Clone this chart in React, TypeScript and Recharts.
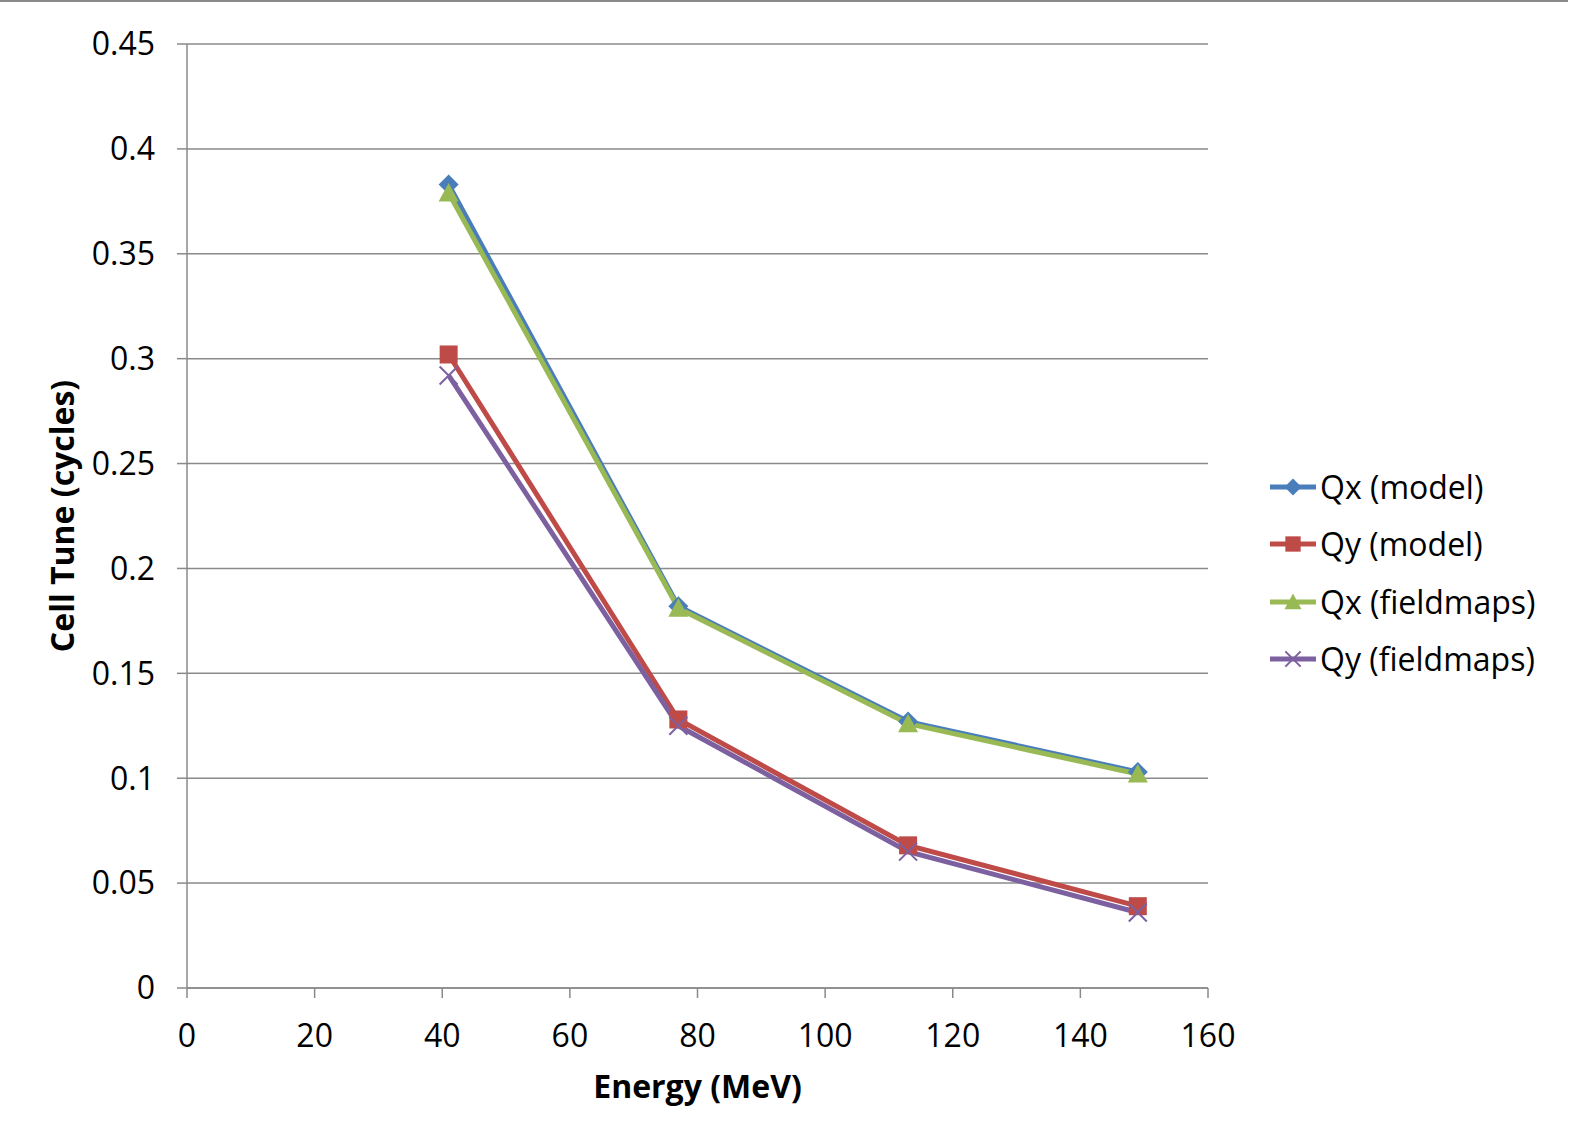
import React from "react";
import { LineChart, Line, XAxis, YAxis, CartesianGrid } from "recharts";

const energy = [41, 77, 113, 149];
const qxModel = [0.383, 0.182, 0.127, 0.103];
const qyModel = [0.302, 0.128, 0.068, 0.039];
const qxField = [0.379, 0.181, 0.126, 0.102];
const qyField = [0.292, 0.125, 0.065, 0.036];
const xTicks = [0, 20, 40, 60, 80, 100, 120, 140, 160];
const yTicks = [0, 0.05, 0.1, 0.15, 0.2, 0.25, 0.3, 0.35, 0.4, 0.45];

const seriesNames = ["Qx (model)", "Qy (model)", "Qx (fieldmaps)", "Qy (fieldmaps)"];
const colors = ["#4A7EBB", "#BE4B48", "#98B954", "#7D60A0"];
const shapes = ["diamond", "square", "triangle", "x"];

const data = energy.map((e, i) => ({
  e,
  s0: qxModel[i],
  s1: qyModel[i],
  s2: qxField[i],
  s3: qyField[i],
}));

const FONT = "'Open Sans', sans-serif";

function Marker({ shape, color, cx, cy, s = 1 }: any) {
  if (cx == null || cy == null) return null;
  if (shape === "diamond") {
    const r = 10 * s;
    return <path d={`M${cx},${cy - r}L${cx + r},${cy}L${cx},${cy + r}L${cx - r},${cy}Z`} fill={color} />;
  }
  if (shape === "square") {
    const r = 9 * s;
    return <rect x={cx - r} y={cy - r} width={2 * r} height={2 * r} fill={color} />;
  }
  if (shape === "triangle") {
    const r = 10 * s;
    return <path d={`M${cx},${cy - r}L${cx + r},${cy + r * 0.85}L${cx - r},${cy + r * 0.85}Z`} fill={color} />;
  }
  const r = 9 * s;
  return (
    <path d={`M${cx - r},${cy - r}L${cx + r},${cy + r}M${cx - r},${cy + r}L${cx + r},${cy - r}`} stroke={color} strokeWidth={2} fill="none" />
  );
}

function makeDot(i: number) {
  return (props: any) => <Marker key={`d${i}-${props.index}`} shape={shapes[i]} color={colors[i]} cx={props.cx} cy={props.cy} />;
}

function Legend() {
  return (
    <div style={{ position: "absolute", left: 1268, top: 458, fontFamily: FONT, fontSize: 32, color: "#000" }}>
      {seriesNames.map((n, i) => (
        <div key={n} style={{ display: "flex", alignItems: "center", height: 57.5 }}>
          <svg width={50} height={22} style={{ marginRight: 2 }}>
            <line x1={2} y1={11} x2={48} y2={11} stroke={colors[i]} strokeWidth={5} />
            <Marker shape={shapes[i]} color={colors[i]} cx={25} cy={11} s={0.85} />
          </svg>
          <span style={{ lineHeight: 1 }}>{n}</span>
        </div>
      ))}
    </div>
  );
}

export default function App() {
  return (
    <div style={{ position: "absolute", left: 0, top: 0, width: 1576, height: 1147, background: "#fff" }}>
      <div style={{ position: "absolute", left: 0, top: 0, width: 1568, height: 2, background: "#8a8a8a" }} />
      <LineChart
        width={1576}
        height={1147}
        data={data}
        margin={{ top: 44, right: 368, bottom: 99, left: 87 }}
      >
        <CartesianGrid horizontal vertical={false} stroke="#8a8a8a" strokeWidth={1.5} />
        <XAxis
          dataKey="e"
          type="number"
          domain={[0, 160]}
          ticks={xTicks}
          interval={0}
          height={60}
          tickSize={10}
          tickMargin={26}
          stroke="#8a8a8a"
          strokeWidth={1.5}
          tick={{ fill: "#000", fontSize: 32, fontFamily: FONT }}
          label={{ value: "Energy (MeV)", position: "insideBottom", offset: -50, style: { fill: "#000", fontSize: 32, fontWeight: 700, fontFamily: FONT } }}
        />
        <YAxis
          type="number"
          domain={[0, 0.45]}
          ticks={yTicks}
          interval={0}
          width={100}
          tickSize={10}
          tickMargin={22}
          stroke="#8a8a8a"
          strokeWidth={1.5}
          tickFormatter={(v: number) => String(Number(v.toFixed(2)))}
          tick={{ fill: "#000", fontSize: 32, fontFamily: FONT }}
          label={{ value: "Cell Tune (cycles)", angle: -90, position: "insideLeft", offset: -24, style: { textAnchor: "middle", fill: "#000", fontSize: 32, fontWeight: 700, fontFamily: FONT } }}
        />
        {[0, 1, 2, 3].map((i) => (
          <Line
            key={i}
            dataKey={`s${i}`}
            stroke={colors[i]}
            strokeWidth={5}
            dot={makeDot(i)}
            activeDot={false}
            isAnimationActive={false}
          />
        ))}
      </LineChart>
      <Legend />
    </div>
  );
}
